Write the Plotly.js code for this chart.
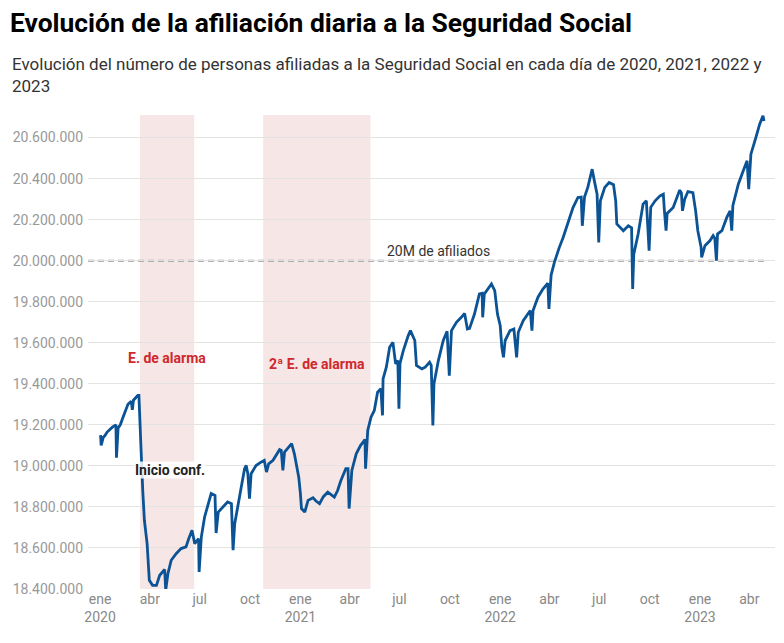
<!DOCTYPE html>
<html>
<head>
    <meta charset='utf-8'>
    <title>Afiliación diaria a la Seguridad Social</title>
    <script src="https://cdn.plot.ly/plotly-3.0.1.min.js"></script>
    <style>
        body { margin: 0; background: #fff; }
        #chartDiv { width: 784px; height: 643px; }
    </style>
</head>
<body>
    <div id="chartDiv"></div>

    <script>
        // afiliados por día (lectura aproximada del gráfico)
        const fechas = [
            '2020-01-02','2020-01-03','2020-01-07','2020-01-10','2020-01-14','2020-01-19','2020-01-24','2020-01-30','2020-01-31',
            '2020-02-03','2020-02-07','2020-02-12','2020-02-17','2020-02-21','2020-02-27','2020-02-29',
            '2020-03-02','2020-03-06','2020-03-10','2020-03-12','2020-03-13','2020-03-16','2020-03-19','2020-03-22','2020-03-27','2020-03-31',
            '2020-04-06','2020-04-13','2020-04-19','2020-04-28','2020-04-30',
            '2020-05-04','2020-05-10','2020-05-19','2020-05-28',
            '2020-06-06','2020-06-11','2020-06-17','2020-06-22','2020-06-29','2020-06-30',
            '2020-07-04','2020-07-10','2020-07-16','2020-07-22','2020-07-29','2020-07-31',
            '2020-08-04','2020-08-12','2020-08-21','2020-08-28','2020-08-31',
            '2020-09-03','2020-09-09','2020-09-15','2020-09-21','2020-09-24','2020-09-27','2020-09-30',
            '2020-10-03','2020-10-12','2020-10-21','2020-10-27','2020-10-31',
            '2020-11-04','2020-11-12','2020-11-24','2020-11-27','2020-11-30',
            '2020-12-03','2020-12-09','2020-12-16','2020-12-21','2020-12-29',
            '2021-01-01','2021-01-03','2021-01-09','2021-01-15','2021-01-24','2021-01-29',
            '2021-02-05','2021-02-12','2021-02-20',
            '2021-03-04','2021-03-10','2021-03-16','2021-03-25','2021-03-29','2021-03-31',
            '2021-04-05','2021-04-13','2021-04-21','2021-04-28','2021-04-29','2021-04-30',
            '2021-05-04','2021-05-10','2021-05-16','2021-05-22','2021-05-28','2021-05-31',
            '2021-06-01','2021-06-07','2021-06-13','2021-06-19','2021-06-24','2021-06-28','2021-06-30',
            '2021-07-02','2021-07-08','2021-07-17','2021-07-21','2021-07-29',
            '2021-08-01','2021-08-11','2021-08-17','2021-08-25','2021-08-28','2021-08-31',
            '2021-09-02','2021-09-10','2021-09-19','2021-09-26','2021-09-30',
            '2021-10-04','2021-10-13','2021-10-22','2021-10-28',
            '2021-11-02','2021-11-06','2021-11-15','2021-11-24','2021-11-29','2021-11-30',
            '2021-12-03','2021-12-16','2021-12-22','2021-12-27',
            '2022-01-01','2022-01-04','2022-01-07','2022-01-10','2022-01-19','2022-01-26','2022-01-31',
            '2022-02-03','2022-02-12','2022-02-25','2022-02-28',
            '2022-03-02','2022-03-11','2022-03-20','2022-03-29','2022-03-31',
            '2022-04-04','2022-04-10','2022-04-19','2022-04-26',
            '2022-05-05','2022-05-14','2022-05-23','2022-05-29','2022-05-31',
            '2022-06-04','2022-06-10','2022-06-18','2022-06-22','2022-06-27','2022-06-30',
            '2022-07-03','2022-07-11','2022-07-19','2022-07-27','2022-07-31',
            '2022-08-02','2022-08-08','2022-08-14','2022-08-23','2022-08-29','2022-08-31',
            '2022-09-02','2022-09-10','2022-09-19','2022-09-25','2022-09-30',
            '2022-10-03','2022-10-11','2022-10-20','2022-10-26','2022-10-28','2022-10-31',
            '2022-11-02','2022-11-13','2022-11-25','2022-11-28','2022-11-30',
            '2022-12-04','2022-12-10','2022-12-19','2022-12-24','2022-12-28',
            '2023-01-03','2023-01-04','2023-01-10','2023-01-19','2023-01-25','2023-01-28','2023-01-31',
            '2023-02-02','2023-02-10','2023-02-19','2023-02-25','2023-02-28',
            '2023-03-02','2023-03-12','2023-03-21','2023-03-28','2023-03-31',
            '2023-04-04','2023-04-13','2023-04-20','2023-04-26','2023-04-28'
        ];

        const afiliados = [
            19150000,19100000,19140000,19148000,19165000,19180000,19190000,19200000,19040000,
            19185000,19200000,19237000,19270000,19300000,19315000,19273000,
            19320000,19330000,19343000,19343000,19254000,19075000,18880000,18735000,18621000,18443000,
            18418000,18418000,18467000,18495000,18394000,
            18475000,18540000,18572000,18597000,
            18605000,18645000,18686000,18621000,18645000,18483000,
            18653000,18751000,18808000,18865000,18856000,18673000,
            18775000,18800000,18824000,18816000,18589000,
            18718000,18799000,18897000,18986000,19002000,18962000,18840000,
            18962000,19002000,19018000,19027000,18970000,
            19010000,19027000,19079000,19075000,18978000,
            19067000,19084000,19108000,19059000,18945000,
            18865000,18792000,18775000,18832000,18845000,18830000,
            18816000,18850000,18872000,
            18848000,18880000,18929000,18986000,18986000,18792000,
            18978000,19059000,19100000,19124000,19130000,18986000,
            19173000,19237000,19270000,19359000,19376000,19246000,
            19424000,19481000,19578000,19602000,19497000,19513000,19278000,
            19500000,19562000,19635000,19659000,19611000,
            19489000,19473000,19481000,19505000,19490000,19197000,
            19400000,19513000,19611000,19656000,19440000,
            19659000,19700000,19724000,19743000,
            19667000,19670000,19740000,19838000,19841000,19724000,
            19838000,19887000,19854000,19740000,
            19684000,19578000,19529000,19611000,19659000,19667000,19529000,
            19651000,19708000,19757000,19659000,
            19757000,19822000,19862000,19890000,19765000,
            19930000,19992000,20065000,20113000,
            20186000,20259000,20308000,20310000,20170000,
            20310000,20357000,20446000,20389000,20324000,20089000,
            20292000,20357000,20381000,20370000,20292000,
            20179000,20162000,20146000,20170000,20160000,19862000,
            20032000,20130000,20276000,20292000,20049000,
            20260000,20292000,20316000,20324000,20243000,20146000,
            20230000,20259000,20344000,20330000,20243000,
            20300000,20337000,20332000,20243000,20146000,
            20065000,20016000,20073000,20097000,20122000,20110000,20000000,
            20130000,20146000,20211000,20243000,20146000,
            20268000,20373000,20438000,20487000,20349000,
            20519000,20600000,20665000,20706000,20681000
        ];

        // periodos de estado de alarma
        const alarmaInicio = ['2020-03-14', '2020-10-25'];
        const alarmaFin = ['2020-06-21', '2021-05-09'];
        const alarmaTexto = ['E. de alarma', '2ª E. de alarma'];
        const alarmaTextoFecha = ['2020-05-02', '2021-01-31'];
        const alarmaTextoValor = [19525000, 19495000];

        const umbral = 20000000;

        const tickFechas = ['2020-01-01','2020-04-01','2020-07-01','2020-10-01','2021-01-01','2021-04-01','2021-07-01','2021-10-01',
                            '2022-01-01','2022-04-01','2022-07-01','2022-10-01','2023-01-01','2023-04-01'];
        const tickTextos = ['ene<br>2020','abr','jul','oct','ene<br>2021','abr','jul','oct',
                            'ene<br>2022','abr','jul','oct','ene<br>2023','abr'];

        const chartDiv = document.getElementById('chartDiv');
        const rojo = '#d0282c';

        const shapes = alarmaInicio.map((ini, i) => ({
            type: 'rect', xref: 'x', yref: 'paper',
            x0: ini, x1: alarmaFin[i], y0: 0, y1: 1,
            fillcolor: '#f6e6e6', line: { width: 0 }, layer: 'below'
        }));
        shapes.push({
            type: 'line', xref: 'paper', yref: 'y',
            x0: 0, x1: 0.985, y0: umbral, y1: umbral,
            line: { color: '#999999', width: 2, dash: '6px,4px' }, layer: 'below'
        });

        const annotations = alarmaTexto.map((t, i) => ({
            x: alarmaTextoFecha[i], y: alarmaTextoValor[i], xref: 'x', yref: 'y',
            text: '<b>' + t + '</b>', showarrow: false,
            font: { color: rojo, size: 14 }
        }));
        annotations.push({
            x: '2020-05-07', y: 18980000, xref: 'x', yref: 'y',
            text: '<b>Inicio conf.</b>', showarrow: false,
            font: { color: '#222', size: 14 },
            bgcolor: 'rgba(255,255,255,0.85)', borderpad: 0
        });
        annotations.push({
            x: '2021-09-11', y: umbral, xref: 'x', yref: 'y', yanchor: 'bottom',
            text: '20M de afiliados', showarrow: false,
            font: { color: '#333', size: 14 }
        });
        // subtítulo en coordenadas del papel
        annotations.push({
            x: (10 - 88) / 687, y: (589 - 52) / 474, xref: 'paper', yref: 'paper', xanchor: 'left', yanchor: 'top',
            text: 'Evolución del número de personas afiliadas a la Seguridad Social en cada día de 2020, 2021, 2022 y<br>2023',
            showarrow: false, align: 'left',
            font: { color: '#333', size: 17 }
        });

        const traza = {
            x: fechas,
            y: afiliados,
            type: 'scatter',
            mode: 'lines',
            line: { color: '#0b5394', width: 2.8 },
            hoverinfo: 'x+y'
        };

        const layout = {
            width: 784, height: 643,
            font: { family: 'Roboto, sans-serif' },
            separators: ',.',
            paper_bgcolor: '#fff', plot_bgcolor: '#fff',
            margin: { l: 88, r: 9, t: 115, b: 54 },
            showlegend: false,
            title: {
                text: 'Evolución de la afiliación diaria a la Seguridad Social',
                x: 10 / 784, xanchor: 'left', xref: 'container',
                y: 1 - 23 / 643, yanchor: 'middle', yref: 'container',
                font: { size: 26.4, color: '#000', weight: 700 }
            },
            xaxis: {
                type: 'date',
                range: ['2019-12-10', '2023-05-18'],
                tickvals: tickFechas, ticktext: tickTextos,
                showgrid: false, zeroline: false, showline: false, ticks: '',
                tickfont: { size: 14, color: '#888' }
            },
            yaxis: {
                range: [18400000, 20710000],
                tick0: 18400000, dtick: 200000,
                tickformat: ',d',
                gridcolor: '#e3e3e3', gridwidth: 1,
                zeroline: false, showline: false, ticks: '',
                ticklabelstandoff: 4,
                tickfont: { size: 14, color: '#999' }
            },
            shapes: shapes,
            annotations: annotations
        };

        Plotly.newPlot(chartDiv, [traza], layout, { displayModeBar: false, staticPlot: true });
    </script>
</body>
</html>
